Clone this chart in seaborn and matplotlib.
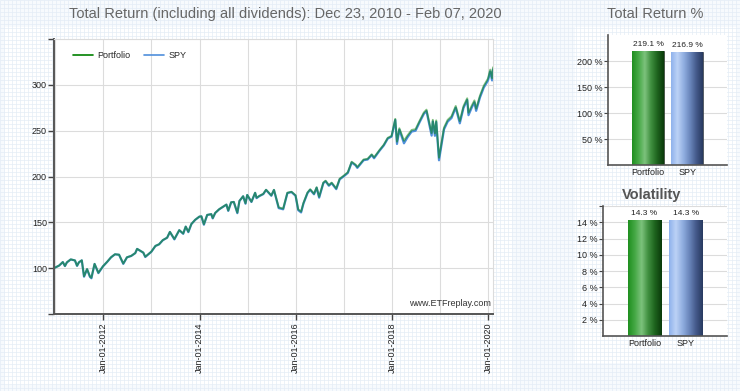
import numpy as np
import pandas as pd
import matplotlib
matplotlib.use("Agg")
import matplotlib.pyplot as plt
import matplotlib.dates as mdates
from matplotlib.colors import LinearSegmentedColormap
from matplotlib.patches import Rectangle
from matplotlib.ticker import FuncFormatter
import seaborn as sns

# ── Data (growth of 100, incl. dividends) ─────────────────────────────────────
DATES = [
    "2010-12-23", "2011-01-31", "2011-02-28", "2011-03-16", "2011-03-31", "2011-04-29",
    "2011-05-31", "2011-06-16", "2011-06-30", "2011-07-22", "2011-08-08", "2011-08-31",
    "2011-09-22", "2011-10-03", "2011-10-27", "2011-11-25", "2011-12-30",
    "2012-01-31", "2012-02-29", "2012-03-30", "2012-04-30", "2012-06-01", "2012-06-29",
    "2012-07-31", "2012-08-31", "2012-09-14", "2012-10-31", "2012-11-15", "2012-12-31",
    "2013-01-31", "2013-02-28", "2013-03-28", "2013-04-30", "2013-05-21", "2013-06-24",
    "2013-07-31", "2013-08-30", "2013-09-18", "2013-10-08", "2013-10-31", "2013-11-29",
    "2013-12-31",
    "2014-01-15", "2014-02-03", "2014-02-28", "2014-03-31", "2014-04-11", "2014-04-30",
    "2014-05-30", "2014-06-30", "2014-07-24", "2014-08-07", "2014-08-29", "2014-09-18",
    "2014-10-15", "2014-10-31", "2014-11-28", "2014-12-16", "2014-12-29",
    "2015-01-30", "2015-02-27", "2015-03-10", "2015-03-31", "2015-04-30", "2015-05-21",
    "2015-06-30", "2015-07-20", "2015-08-25", "2015-09-28", "2015-10-30", "2015-11-30",
    "2015-12-31",
    "2016-01-20", "2016-02-11", "2016-02-29", "2016-03-31", "2016-04-20", "2016-05-19",
    "2016-06-08", "2016-06-27", "2016-07-29", "2016-08-15", "2016-09-09", "2016-09-30",
    "2016-11-04", "2016-11-30", "2016-12-30",
    "2017-01-31", "2017-03-01", "2017-03-31", "2017-04-13", "2017-05-31", "2017-06-30",
    "2017-07-31", "2017-08-18", "2017-09-29", "2017-10-31", "2017-11-30", "2017-12-29",
    "2018-01-26", "2018-02-08", "2018-02-26", "2018-04-02", "2018-04-30", "2018-05-31",
    "2018-06-29", "2018-07-31", "2018-08-31", "2018-09-20", "2018-10-29", "2018-11-07",
    "2018-11-23", "2018-12-03", "2018-12-24",
    "2019-01-31", "2019-02-28", "2019-03-29", "2019-04-30", "2019-05-31", "2019-06-28",
    "2019-07-26", "2019-08-05", "2019-08-30", "2019-09-19", "2019-10-02", "2019-10-31",
    "2019-11-29", "2019-12-31",
    "2020-01-17", "2020-01-31", "2020-02-07",
]

SPY = [
    100.0, 102.8, 106.6, 102.3, 106.3, 109.5, 108.4, 102.5, 106.3, 108.5, 90.7, 98.8,
    90.5, 89.0, 104.6, 94.6, 102.0,
    106.9, 111.8, 115.1, 114.6, 104.7, 111.8, 113.3, 116.4, 121.0, 116.9, 112.2, 117.9,
    124.2, 126.0, 130.5, 133.2, 139.5, 131.4, 141.4, 137.5, 145.3, 139.3, 148.1, 152.7,
    156.2,
    156.5, 147.4, 158.0, 158.9, 154.3, 160.2, 164.2, 167.0, 169.3, 162.5, 171.8, 172.2,
    160.0, 173.3, 178.4, 170.3, 179.8,
    172.2, 182.1, 176.4, 178.6, 180.8, 185.3, 179.0, 185.2, 165.5, 164.2, 181.9, 183.0,
    179.0,
    163.3, 160.8, 170.5, 182.0, 185.5, 180.6, 187.7, 176.9, 192.8, 194.8, 189.9, 192.7,
    186.2, 196.9, 200.1,
    203.9, 215.3, 212.1, 209.4, 217.8, 218.5, 223.4, 219.9, 228.2, 233.9, 241.4, 243.5,
    261.7, 235.5, 251.1, 236.2, 243.0, 249.1, 249.9, 259.6, 268.3, 271.4, 244.6, 260.0,
    244.4, 259.5, 217.7,
    251.4, 259.9, 263.8, 275.1, 258.0, 274.8, 283.5, 266.9, 275.3, 281.0, 271.6, 286.2,
    297.0, 304.7,
    314.5, 304.8, 316.9,
]

PORTFOLIO = [
    100.0, 102.9, 106.7, 102.4, 106.4, 109.6, 108.5, 102.7, 106.4, 108.6, 91.2, 99.1,
    91.0, 89.6, 104.7, 95.0, 102.1,
    107.0, 111.9, 115.2, 114.7, 105.1, 111.9, 113.4, 116.5, 121.1, 117.0, 112.5, 118.0,
    124.3, 126.1, 130.6, 133.3, 139.6, 131.8, 141.5, 137.8, 145.4, 139.7, 148.2, 152.8,
    156.3,
    156.6, 147.9, 158.1, 159.0, 154.7, 160.3, 164.3, 167.1, 169.4, 162.9, 171.9, 172.3,
    160.6, 173.4, 178.5, 170.8, 179.9,
    172.5, 182.3, 176.8, 178.9, 181.1, 185.6, 179.4, 185.5, 166.3, 165.0, 182.3, 183.4,
    179.5,
    164.2, 161.8, 171.2, 182.6, 186.1, 181.2, 188.3, 177.9, 193.4, 195.4, 190.6, 193.3,
    187.0, 197.6, 200.8,
    204.7, 216.1, 212.9, 210.3, 218.6, 219.3, 224.2, 220.9, 229.0, 234.7, 242.2, 244.3,
    262.9, 238.0, 252.6, 239.0, 245.0, 250.8, 251.6, 261.1, 269.8, 272.9, 247.4, 261.8,
    247.0, 261.2, 220.5,
    253.3, 261.8, 265.7, 276.9, 260.5, 276.7, 285.3, 269.6, 277.4, 283.0, 274.0, 288.2,
    299.0, 306.8,
    316.6, 307.2, 319.1,
]

BAR_NAMES = ["Portfolio", "SPY"]
TOTAL_RETURN = [219.1, 216.9]
VOLATILITY = [14.3, 14.3]

GREEN = "#008000"
BLUE = "#4f8fdc"
GREEN_SHADE = LinearSegmentedColormap.from_list(
    "g", ["#1f8f1f", "#45a845", "#7cc27c", "#3f8f3f", "#1d621d", "#0a3a0a"])
BLUE_SHADE = LinearSegmentedColormap.from_list(
    "b", ["#8fb2ec", "#bcd2f6", "#90aee0", "#6a86bb", "#44598a", "#283a60"])

sns.set_theme(style="white")
plt.rcParams["font.family"] = ["Liberation Sans", "DejaVu Sans"]

W, H = 740, 391
fig = plt.figure(figsize=(W / 100, H / 100), dpi=100)


def frac(left, top, right, bottom):
    """Pixel box -> figure fraction rect."""
    return [left / W, 1 - bottom / H, (right - left) / W, (bottom - top) / H]


# ── Graph-paper background and white panels ──────────────────────────────────
bg = fig.add_axes([0, 0, 1, 1], zorder=-5)
bg.set_xlim(0, W)
bg.set_ylim(H, 0)
bg.set_facecolor("#f7fafd")
bg.vlines(np.arange(0, W, 4), 0, H, color="#e4edf6", lw=0.5)
bg.hlines(np.arange(0, H, 4), 0, W, color="#e4edf6", lw=0.5)
bg.add_patch(Rectangle((5, 27), 507, 358, facecolor="white", edgecolor="none"))
bg.add_patch(Rectangle((575, 27), 162, 336, facecolor="white", edgecolor="none"))
bg.set_xticks([])
bg.set_yticks([])
for s in bg.spines.values():
    s.set_visible(False)

# ── Main line chart ───────────────────────────────────────────────────────────
df = pd.DataFrame({"date": pd.to_datetime(DATES), "Portfolio": PORTFOLIO, "SPY": SPY})

ax = fig.add_axes(frac(54, 39, 493, 314))
sns.lineplot(data=df, x="date", y="SPY", ax=ax, color=BLUE, lw=1.6, label="SPY")
sns.lineplot(data=df, x="date", y="Portfolio", ax=ax, color=GREEN, lw=1.4,
             alpha=0.5, label="Portfolio")

ax.set_xlim(df["date"].iloc[0], df["date"].iloc[-1])
ax.set_ylim(50, 350)
ax.set_yticks([50, 100, 150, 200, 250, 300, 350])
ax.set_yticklabels(["", "100", "150", "200", "250", "300", ""])
ax.xaxis.set_major_locator(mdates.YearLocator(2))
ax.xaxis.set_minor_locator(mdates.YearLocator(1))
ax.xaxis.set_major_formatter(mdates.DateFormatter("%b-%d-%Y"))
ax.tick_params(axis="x", which="major", labelrotation=90, labelsize=6.5,
               length=4, width=1, color="#444", pad=2)
ax.tick_params(axis="x", which="minor", length=0)
ax.tick_params(axis="y", labelsize=6.5, length=4, width=1, color="#444", pad=1)
ax.tick_params(axis="both", direction="out", bottom=True, left=True, labelcolor="#222222")
ax.grid(True, which="both", color="#dcdcdc", lw=0.8)
ax.set_axisbelow(True)
ax.set_xlabel("")
ax.set_ylabel("")
for side in ("left", "bottom"):
    ax.spines[side].set_color("#555555")
    ax.spines[side].set_linewidth(1.4)
for side in ("top", "right"):
    ax.spines[side].set_color("#dcdcdc")
    ax.spines[side].set_linewidth(0.8)

handles, labels = ax.get_legend_handles_labels()
order = [labels.index("Portfolio"), labels.index("SPY")]
leg = ax.legend([handles[i] for i in order], [labels[i] for i in order],
                loc="upper left", bbox_to_anchor=(0.025, 0.985), ncol=2,
                frameon=False, fontsize=6.5, handlelength=2.2, columnspacing=1.5,
                handletextpad=0.5)
for line in leg.get_lines():
    line.set_alpha(1)
    line.set_linewidth(1.2)

ax.text(0.995, 0.02, "www.ETFreplay.com", transform=ax.transAxes, ha="right",
        va="bottom", fontsize=6.5, color="#333333")

fig.text(285 / W, 1 - 14 / H, "Total Return (including all dividends): Dec 23, 2010 - Feb 07, 2020",
         ha="center", va="center", fontsize=10.5, color="#666666")


# ── Shaded bar charts ─────────────────────────────────────────────────────────
def bar_panel(rect, values, ylim, ticks, xlim, width):
    bax = fig.add_axes(rect)
    sns.barplot(x=BAR_NAMES, y=values, hue=BAR_NAMES, palette=[GREEN, BLUE],
                legend=False, ax=bax, width=width, edgecolor="#333333", linewidth=0.5)
    bars = [p for p in bax.patches if p.get_height() > 0]
    grad = np.linspace(0, 1, 128).reshape(1, -1)
    for patch, cmap, v in zip(bars, [GREEN_SHADE, BLUE_SHADE], values):
        x0, y0 = patch.get_x(), patch.get_y()
        w, h = patch.get_width(), patch.get_height()
        im = bax.imshow(grad, cmap=cmap, aspect="auto", zorder=patch.get_zorder() + 0.1,
                        extent=(x0, x0 + w, y0, y0 + h))
        im.set_clip_path(patch)
        bax.annotate(f"{v:.1f} %", (x0 + w / 2, y0 + h), xytext=(0, 2),
                     textcoords="offset points", ha="center", va="bottom",
                     fontsize=6, color="#222222")
    bax.set_xlim(*xlim)
    bax.set_ylim(*ylim)
    bax.set_yticks(ticks)
    bax.yaxis.set_major_formatter(FuncFormatter(
        lambda v, _: f"{v:g} %" if v < ylim[1] else ""))
    bax.tick_params(axis="y", labelsize=6.5, length=3, width=0.8, color="#444",
                    direction="out", left=True, pad=1, labelcolor="#222222")
    bax.tick_params(axis="x", labelsize=6.5, length=0, pad=2, labelcolor="#222222")
    bax.grid(True, axis="y", color="#dcdcdc", lw=0.8)
    bax.set_axisbelow(True)
    bax.set_xlabel("")
    bax.set_ylabel("")
    for side in ("left", "bottom"):
        bax.spines[side].set_color("#555555")
        bax.spines[side].set_linewidth(1.2)
    for side in ("top", "right"):
        bax.spines[side].set_visible(False)
    return bax


bar_panel(frac(608, 35, 727, 165.3), TOTAL_RETURN, (0, 250), [50, 100, 150, 200],
          (-1.03, 2.02), 0.82)
fig.text(655 / W, 1 - 14 / H, "Total Return %", ha="center", va="center",
         fontsize=10.5, color="#666666")

bar_panel(frac(603, 206, 727, 336.2), VOLATILITY, (0, 16), [2, 4, 6, 8, 10, 12, 14, 16],
          (-1.0, 2.0), 0.8)
fig.text(652 / W, 1 - 195 / H, "Volatility", ha="center", va="center",
         fontsize=10.5, fontweight="bold", color="#555555")

fig.savefig("out.png", dpi=100)
plt.close()
